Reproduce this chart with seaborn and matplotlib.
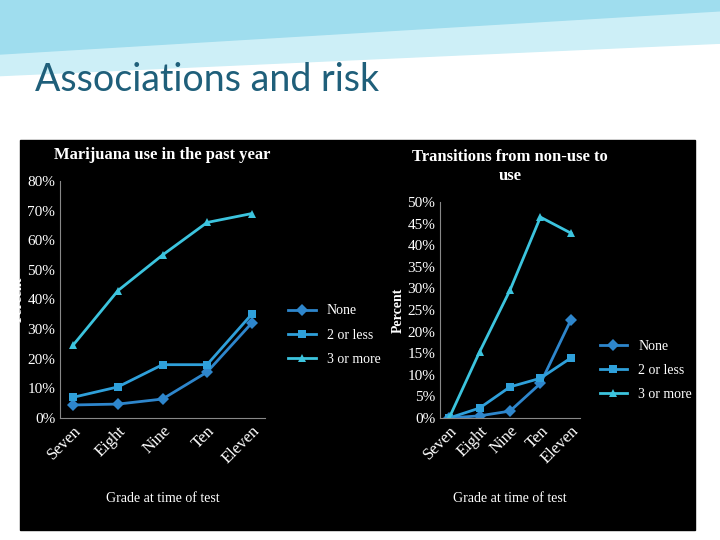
import matplotlib
matplotlib.use("Agg")
import matplotlib.pyplot as plt
import seaborn as sns
import pandas as pd
import numpy as np

grades = ["Seven", "Eight", "Nine", "Ten", "Eleven"]
series = ["None", "2 or less", "3 or more"]
left_none = [4.4, 4.7, 6.4, 15.5, 32.0]
left_two = [7.0, 10.5, 18.0, 18.0, 35.0]
left_three = [24.7, 43.0, 55.0, 66.0, 69.0]
right_none = [0.0, 0.5, 1.6, 8.0, 22.7]
right_two = [0.0, 2.3, 7.2, 9.2, 13.9]
right_three = [0.0, 15.3, 29.6, 46.5, 42.8]

colors = {"None": "#2E86CC", "2 or less": "#2FA0DA", "3 or more": "#3CC4DE"}
markers = {"None": "D", "2 or less": "s", "3 or more": "^"}
serif = "Liberation Serif"

fig = plt.figure(figsize=(7.2, 5.4), dpi=100)
fig.patch.set_facecolor("white")
bg = fig.add_axes([0, 0, 1, 1], zorder=-5)
bg.set_xlim(0, 1); bg.set_ylim(0, 1); bg.axis("off")
x = np.linspace(0, 1, 200)
bg.fill_between(x, 0.86 + 0.06 * x, 1.0, color="#CDEFF7")
bg.fill_between(x, 0.9 + 0.08 * x, 1.0, color="#9FDDEE")
bg.add_patch(plt.Rectangle((20/720, 10/540), 675/720, 390/540, color="black"))
fig.text(35/720, 1 - 80/540, "Associations and risk", fontsize=27, color="#1F5F7A",
         family="Lato", va="center")

def make(rect, vals, ymax, ystep, title, leg_anchor, tpad):
    ax = fig.add_axes(rect)
    ax.set_facecolor("black")
    rows = []
    for s, v in zip(series, vals):
        for g, y in zip(grades, v):
            rows.append({"Grade": g, "Series": s, "Value": y})
    df = pd.DataFrame(rows)
    df["x"] = df["Grade"].map({g: i for i, g in enumerate(grades)})
    sns.lineplot(data=df, x="x", y="Value", hue="Series", style="Series",
                 palette=colors, markers=markers, dashes=False, ax=ax,
                 markersize=6, linewidth=2, markeredgewidth=0)
    ax.set_ylim(0, ymax)
    ax.set_xlim(-0.3, 4.3)
    ticks = np.arange(0, ymax + 0.1, ystep)
    ax.set_yticks(ticks)
    ax.set_yticklabels([f"{int(t)}%" for t in ticks], color="white", family=serif, fontsize=11)
    ax.set_xticks(range(5))
    ax.set_xticklabels(grades, rotation=45, ha="right", rotation_mode="anchor",
                       color="white", family=serif, fontsize=12)
    ax.tick_params(colors="white", length=0)
    for sp in ["top", "right"]:
        ax.spines[sp].set_visible(False)
    ax.spines["left"].set_color("#888888")
    ax.spines["bottom"].set_color("#888888")
    ax.set_xlabel("Grade at time of test", color="white", family=serif, fontsize=10, labelpad=18)
    ax.set_ylabel("Percent", color="white", family=serif, fontsize=10,
                  fontweight="bold", labelpad=2)
    ax.set_title(title, color="white", family=serif, fontsize=12, fontweight="bold", pad=tpad)
    ax.legend(loc="center left", bbox_to_anchor=leg_anchor, frameon=False,
              prop={"family": serif, "size": 10}, labelcolor="white",
              handlelength=2, labelspacing=0.8)
    return ax

make([60/720, 122/540, 205/720, 237/540], [left_none, left_two, left_three], 80, 10,
     "Marijuana use in the past year", (1.05, 0.35), 16)
make([440/720, 122/540, 140/720, 216/540], [right_none, right_two, right_three], 50, 5,
     "Transitions from non-use to\nuse", (1.05, 0.22), 16)
fig.savefig("out.png", dpi=100, facecolor=fig.get_facecolor())
